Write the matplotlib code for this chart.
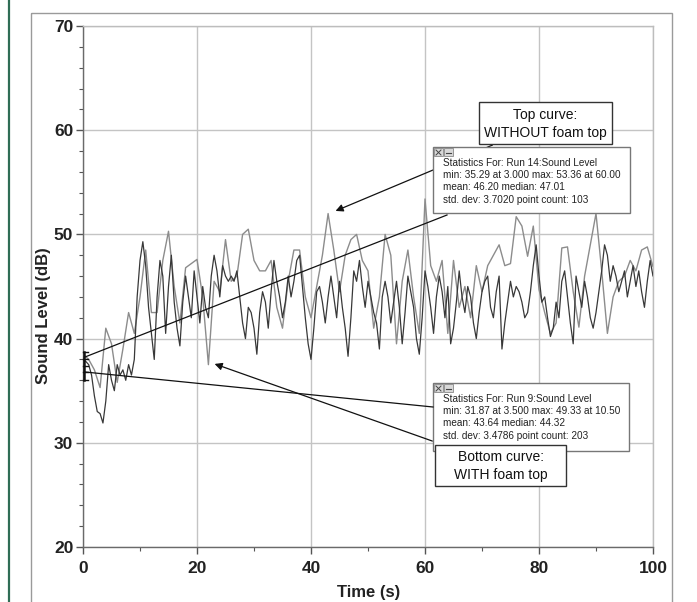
import numpy as np
import matplotlib
matplotlib.use("Agg")
import matplotlib.pyplot as plt
from matplotlib.patches import Rectangle, FancyArrowPatch

# ---------------- data ----------------
# Run 14 (top curve, WITHOUT foam top): 1 s sampling, 103 points
run14_dt = 1.0
run14_level = [
    38.5, 38.0, 37.0, 35.3, 41.0, 39.5, 35.8, 39.0, 42.5, 40.5,
    44.0, 48.5, 42.5, 42.5, 47.5, 50.3, 45.0, 41.5, 46.8, 47.2,
    47.6, 44.0, 37.5, 45.5, 44.5, 49.5, 45.5, 46.0, 50.0, 50.5,
    47.5, 46.5, 46.5, 47.5, 43.0, 41.0, 45.5, 48.5, 48.5, 44.0,
    42.0, 45.0, 48.0, 52.0, 48.5, 44.5, 48.0, 49.5, 50.0, 47.5,
    46.5, 41.0, 44.0, 50.0, 48.0, 39.5, 45.5, 48.5, 44.0, 40.5,
    53.4, 47.0, 45.5, 47.5, 40.5, 47.5, 43.0, 45.0, 42.0, 47.0,
    44.5, 47.0, 48.0, 49.0, 47.0, 47.2, 51.7, 50.8, 47.9, 50.8,
    44.7, 42.5, 40.5, 41.5, 48.7, 48.8, 44.5, 41.1, 46.0, 49.0,
    52.0, 46.5, 40.5, 44.0, 45.5, 46.0, 47.5, 46.5, 48.5, 48.8,
    46.9, 47.0, 46.5,
]

# Run 9 (bottom curve, WITH foam top): 0.5 s sampling, 203 points
run9_dt = 0.5
run9_level = [
    38.0, 37.8, 37.5, 36.5, 34.5, 33.0, 32.8, 31.9, 34.0, 37.5,
    36.0, 35.0, 37.5, 36.5, 37.0, 36.0, 37.5, 36.5, 38.0, 44.0,
    47.5, 49.3, 47.0, 43.0, 40.5, 38.0, 44.0, 47.5, 46.0, 40.5,
    45.0, 48.0, 43.5, 41.0, 39.3, 43.5, 46.0, 44.0, 42.0, 46.5,
    44.0, 41.5, 45.0, 43.0, 42.0, 46.0, 48.0, 46.5, 44.0, 47.0,
    46.0, 45.5, 46.0, 45.5, 46.5, 44.0, 41.5, 40.0, 43.0, 42.5,
    41.0, 38.5, 42.5, 44.5, 43.5, 41.0, 44.5, 47.5, 45.5, 44.0,
    42.0, 43.5, 46.0, 44.0, 45.5, 47.5, 48.0, 45.0, 42.0, 39.5,
    38.0, 41.0, 44.5, 45.0, 43.5, 41.5, 44.0, 46.0, 44.0, 42.0,
    45.5, 43.0, 41.0, 38.3, 42.0, 46.5, 45.5, 47.5, 45.0, 43.0,
    45.5, 44.0, 42.5, 41.5, 39.0, 44.0, 45.5, 44.0, 41.5, 43.5,
    45.5, 43.0, 39.5, 42.5, 46.0, 44.5, 43.0, 40.0, 38.5, 42.0,
    46.5, 45.0, 43.0, 40.5, 44.0, 46.0, 44.5, 42.0, 45.0, 39.5,
    41.0, 43.5, 46.5, 44.0, 42.5, 45.0, 44.0, 41.5, 40.0, 42.5,
    44.5, 45.5, 46.0, 43.0, 42.0, 44.5, 46.0, 39.0, 41.5, 43.5,
    45.5, 44.0, 45.0, 44.5, 43.5, 42.0, 42.5, 44.5, 47.0, 49.0,
    46.0, 43.5, 44.0, 42.0, 40.2, 41.0, 43.5, 42.0, 45.5, 46.5,
    44.0, 41.5, 39.5, 46.0, 44.5, 43.0, 45.5, 44.0, 42.0, 41.0,
    42.5, 44.5, 46.5, 49.0, 48.0, 45.5, 47.0, 46.0, 44.5, 45.5,
    46.5, 44.0, 45.5, 47.0, 45.0, 46.5, 44.5, 43.0, 45.5, 47.5,
    46.0, 47.0, 46.5,
]

x_major = [0, 20, 40, 60, 80, 100]
x_minor = [10, 30, 50, 70, 90]
y_major = [20, 30, 40, 50, 60, 70]
y_minor = list(range(20, 71, 2))

xlabel = "Time (s)"
ylabel = "Sound Level (dB)"

stats14 = ["Statistics For: Run 14:Sound Level",
           "min: 35.29 at 3.000 max: 53.36 at 60.00",
           "mean: 46.20 median: 47.01",
           "std. dev: 3.7020 point count: 103"]
stats9 = ["Statistics For: Run 9:Sound Level",
          "min: 31.87 at 3.500 max: 49.33 at 10.50",
          "mean: 43.64 median: 44.32",
          "std. dev: 3.4786 point count: 203"]
label_top = ["Top curve:", "WITHOUT foam top"]
label_bottom = ["Bottom curve:", "WITH foam top"]

# ---------------- figure ----------------
W, H = 697, 602
fig = plt.figure(figsize=(W / 100, H / 100), dpi=100)
fig.patch.set_facecolor("white")

ax = fig.add_axes([83 / W, (H - 547) / H, 570 / W, 521 / H])
t14 = np.arange(len(run14_level)) * run14_dt
t9 = np.arange(len(run9_level)) * run9_dt
ax.plot(t14, run14_level, color="#8c8c8c", lw=1.0, zorder=3)
ax.plot(t9, run9_level, color="#383838", lw=0.9, zorder=4)

ax.set_xlim(0, 100)
ax.set_ylim(20, 70)
ax.set_xticks(x_major)
ax.set_xticks(x_minor, minor=True)
ax.set_yticks(y_major)
ax.set_yticks(y_minor, minor=True)
ax.grid(True, which="major", color="#c4c4c4", lw=1.0, zorder=0)
for s in ["left", "bottom"]:
    ax.spines[s].set_color("#6a6a6a")
    ax.spines[s].set_linewidth(1.0)
for s in ["top", "right"]:
    ax.spines[s].set_color("#bdbdbd")
    ax.spines[s].set_linewidth(1.0)
ax.tick_params(which="major", direction="out", length=5, width=1, color="#555555")
ax.tick_params(which="minor", direction="out", length=3, width=0.8, color="#555555")
ax.tick_params(axis="x", which="major", pad=5)
ax.tick_params(axis="y", which="major", pad=2)
for lab in ax.get_xticklabels() + ax.get_yticklabels():
    lab.set_fontfamily("Liberation Sans")
    lab.set_fontweight("bold")
    lab.set_fontsize(12.5)
    lab.set_color("#222222")

# ---------------- overlay in pixel coordinates ----------------
ov = fig.add_axes([0, 0, 1, 1], zorder=10)
ov.set_xlim(0, W)
ov.set_ylim(H, 0)
ov.axis("off")
ov.patch.set_alpha(0)

# window frame and green edge
ov.add_patch(Rectangle((31, 13), 641, 620, fill=False, edgecolor="#9a9a9a", lw=1.0))
ov.plot([9, 9], [0, H], color="#2f6d55", lw=1.6)

ov.text(369, 592, xlabel, ha="center", va="center", fontsize=12,
        fontweight="bold", family="Liberation Sans", color="#222222")
ov.text(44, 316, ylabel, ha="center", va="center", rotation=90, fontsize=12,
        fontweight="bold", family="Liberation Sans", color="#222222")

# bracket marks at t=0
ov.plot([84, 84], [352, 380], color="#111111", lw=1.8)
for yy in [352, 359, 366, 372, 380]:
    ov.plot([83, 88], [yy, yy], color="#111111", lw=1.0)

# connecting lines from stats boxes
ov.plot([85, 447], [357, 215], color="#111111", lw=0.9)
ov.plot([85, 433], [372, 407], color="#111111", lw=0.9)

# arrows from labels
for (x0, y0), (x1, y1) in [((495, 144), (333, 212)), ((435, 442), (212, 363))]:
    ov.add_patch(FancyArrowPatch((x0, y0), (x1, y1), arrowstyle="-|>",
                                 mutation_scale=11, color="#111111", lw=0.9))


def stats_box(x, y, w, h, lines):
    ov.add_patch(Rectangle((x, y), w, h, facecolor="white", edgecolor="#777777", lw=1.0))
    ov.add_patch(Rectangle((x + 1, y + 1), 9, 8, facecolor="#d8d8d8", edgecolor="#888888", lw=0.6))
    ov.add_patch(Rectangle((x + 11, y + 1), 9, 8, facecolor="#d8d8d8", edgecolor="#888888", lw=0.6))
    ov.plot([x + 3, x + 8], [y + 3, y + 8], color="#444444", lw=0.7)
    ov.plot([x + 3, x + 8], [y + 8, y + 3], color="#444444", lw=0.7)
    ov.plot([x + 13, x + 18], [y + 5.5, y + 5.5], color="#444444", lw=0.8)
    for i, s in enumerate(lines):
        ov.text(x + 10, y + 16 + 12.2 * i, s, ha="left", va="center", fontsize=7.2,
                family="Liberation Sans", color="#222222")


def label_box(x, y, w, h, lines):
    ov.add_patch(Rectangle((x, y), w, h, facecolor="white", edgecolor="#333333", lw=1.0))
    cx = x + w / 2
    for i, s in enumerate(lines):
        ov.text(cx, y + h * (0.30 + 0.44 * i), s, ha="center", va="center",
                fontsize=10, family="Liberation Sans", color="#111111")


stats_box(433, 147, 197, 66, stats14)
label_box(479, 102, 133, 42, label_top)
stats_box(433, 383, 196, 68, stats9)
label_box(435, 445, 131, 41, label_bottom)

fig.savefig("out.png", dpi=100)
